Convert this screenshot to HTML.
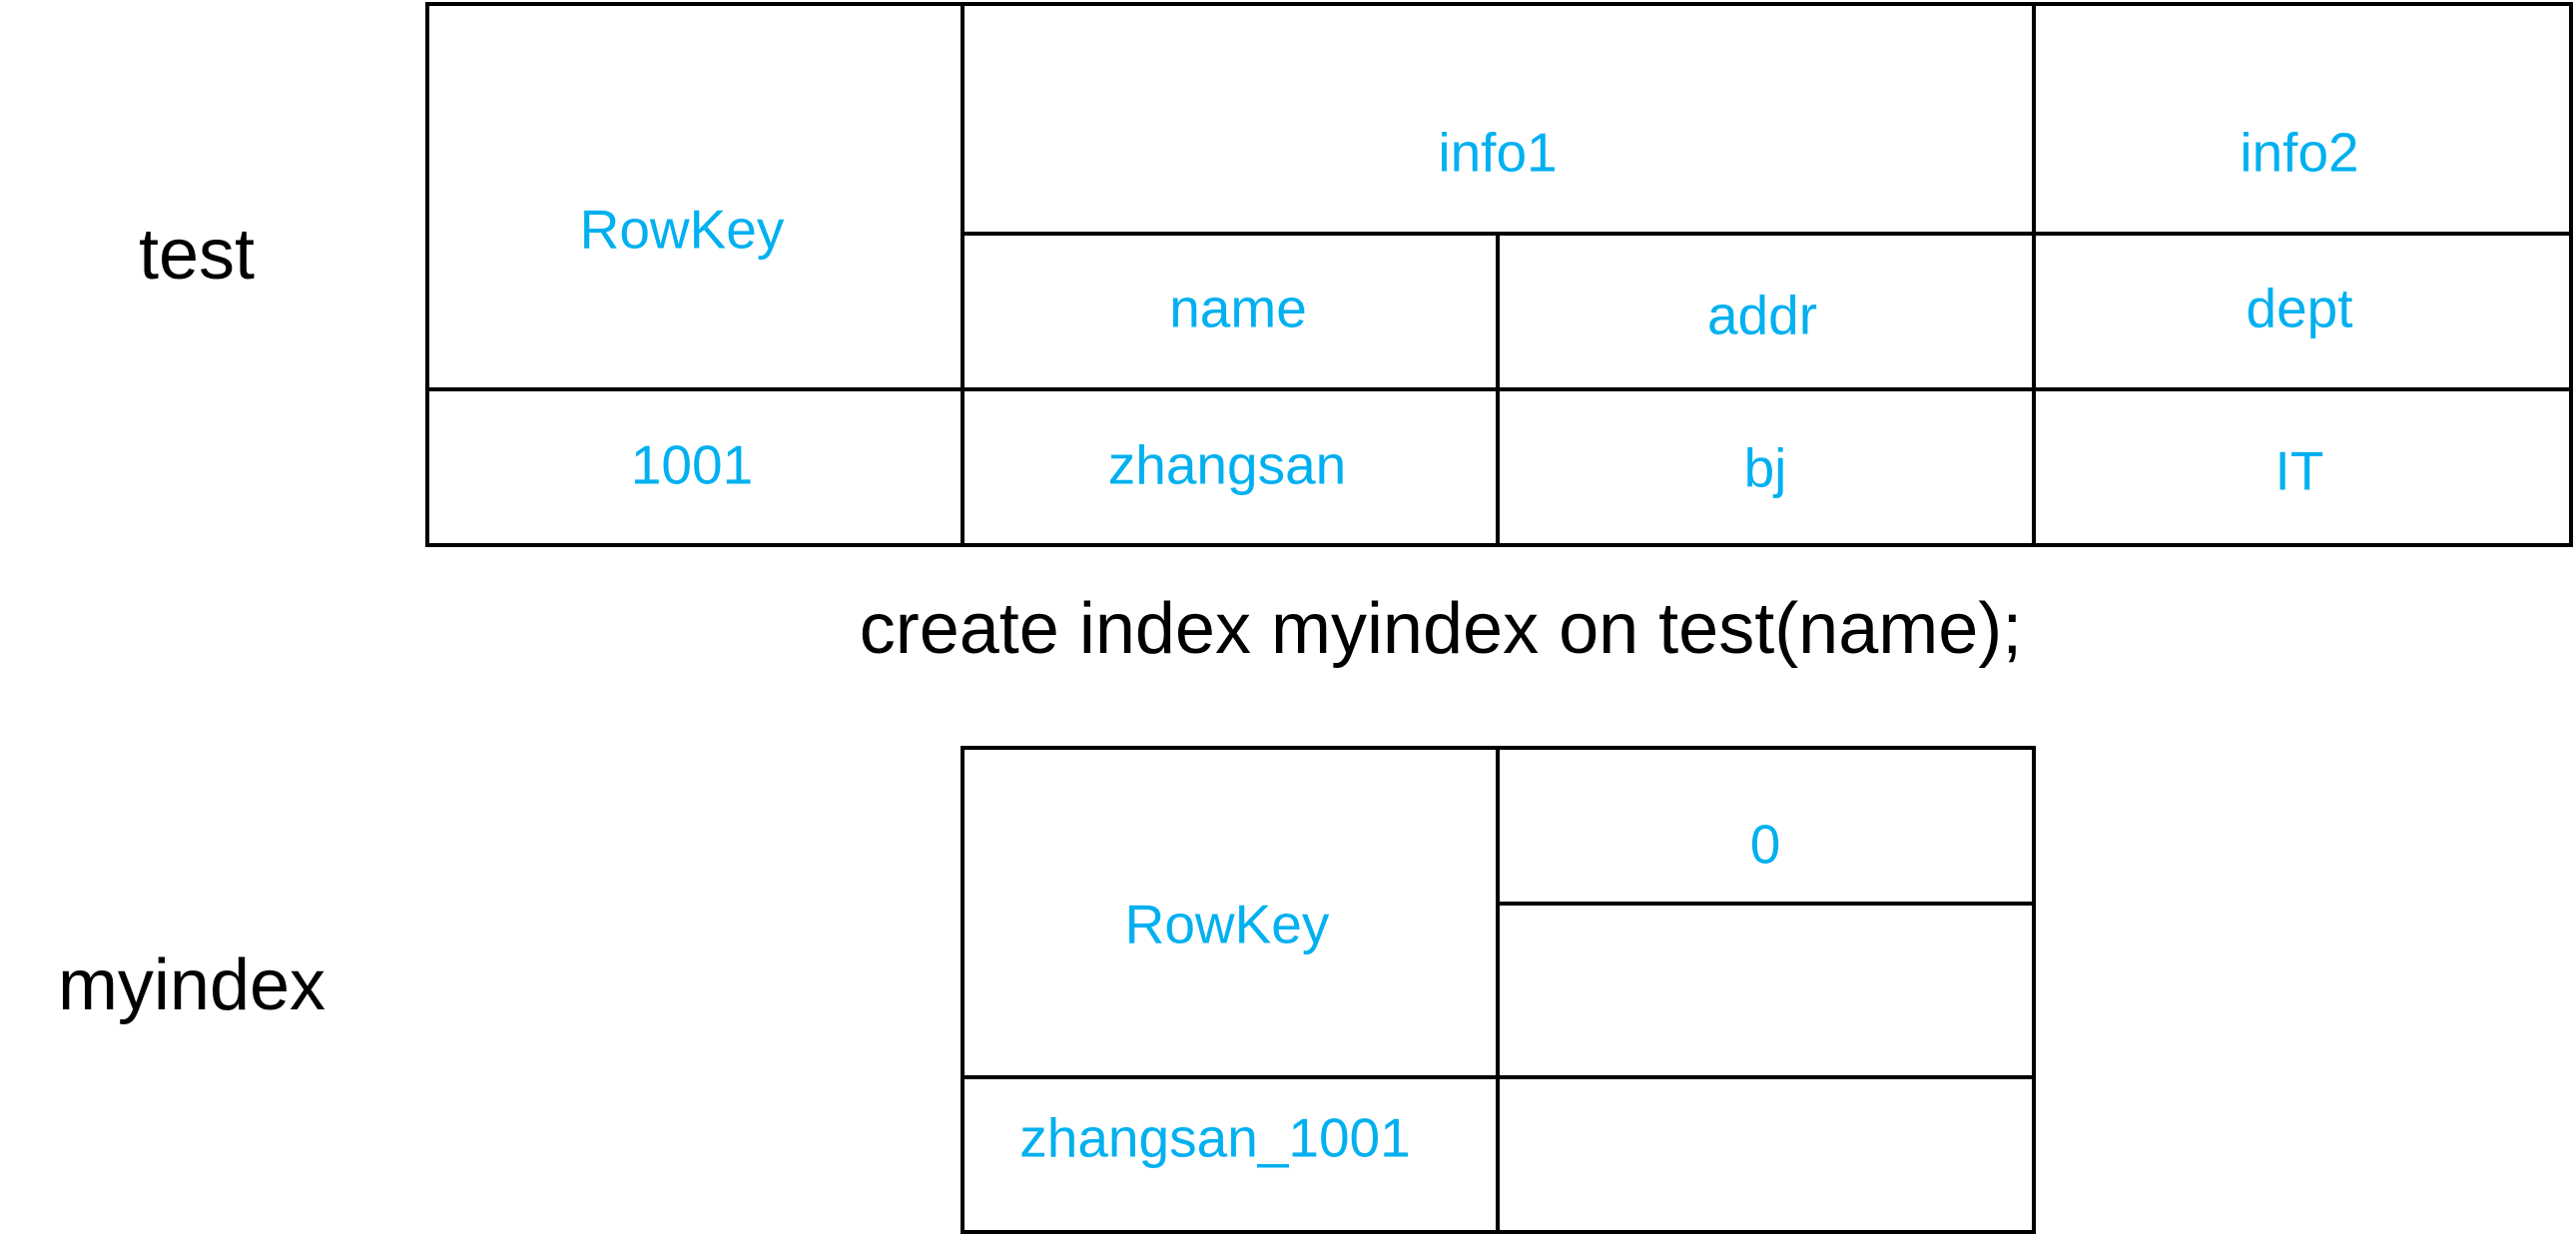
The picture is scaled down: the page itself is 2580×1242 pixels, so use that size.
<!DOCTYPE html>
<html><head><meta charset="utf-8"><style>
html,body{margin:0;padding:0;background:#fff;}
body{width:2580px;height:1242px;position:relative;overflow:hidden;font-family:"Liberation Sans",sans-serif;}
.t{position:absolute;transform:translate(-50%,-50%);white-space:nowrap;line-height:1;}
.b{color:#00B0F0;font-size:55px;}
.k{color:#000;font-size:72px;}
svg{position:absolute;left:0;top:0;}
</style></head><body>
<svg width="2580" height="1242">
<g stroke="#000" stroke-width="4" fill="none">
<rect x="428" y="4" width="2147" height="542"/>
<line x1="964" y1="4" x2="964" y2="546"/>
<line x1="2037" y1="4" x2="2037" y2="546"/>
<line x1="1500" y1="234" x2="1500" y2="546"/>
<line x1="964" y1="234" x2="2575" y2="234"/>
<line x1="428" y1="390" x2="2575" y2="390"/>
<rect x="964" y="749" width="1073" height="485"/>
<line x1="1500" y1="749" x2="1500" y2="1234"/>
<line x1="1500" y1="905" x2="2037" y2="905"/>
<line x1="964" y1="1079" x2="2037" y2="1079"/>
</g>
</svg>
<div class="t k" style="left:197px;top:255px">test</div>
<div class="t b" style="left:683px;top:230px">RowKey</div>
<div class="t b" style="left:1500px;top:153px">info1</div>
<div class="t b" style="left:2303px;top:153px">info2</div>
<div class="t b" style="left:1240px;top:309px">name</div>
<div class="t b" style="left:1765px;top:316px">addr</div>
<div class="t b" style="left:2303px;top:309px">dept</div>
<div class="t b" style="left:693px;top:466px">1001</div>
<div class="t b" style="left:1229px;top:466px">zhangsan</div>
<div class="t b" style="left:1768px;top:469px">bj</div>
<div class="t b" style="left:2303px;top:472px">IT</div>
<div class="t k" style="left:1443px;top:630px">create index myindex on test(name);</div>
<div class="t k" style="left:192px;top:987px">myindex</div>
<div class="t b" style="left:1229px;top:926px">RowKey</div>
<div class="t b" style="left:1768px;top:846px">0</div>
<div class="t b" style="left:1217px;top:1140px">zhangsan_1001</div>
</body></html>
